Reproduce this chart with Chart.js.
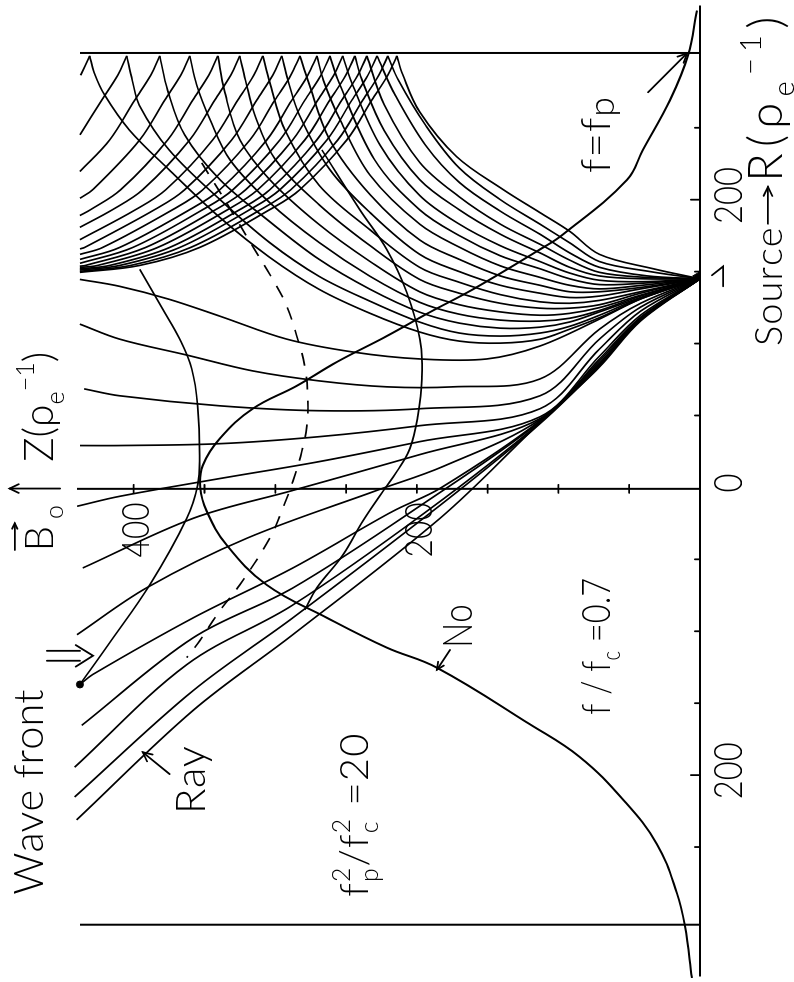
<!DOCTYPE html>
<html>
<head>
<meta charset="utf-8">
<script src="https://cdn.jsdelivr.net/npm/chart.js@4.4.0/dist/chart.umd.min.js"></script>
<style>
html, body { margin: 0; padding: 0; background: #fff; overflow: hidden; width: 794px; height: 982px; }
#wrap { position: absolute; left: 0; top: 0; width: 982px; height: 794px;
        transform-origin: 0 0; transform: translate(0, 982px) rotate(-90deg); }
</style>
</head>
<body>
<div id="wrap"><canvas id="rayChart" width="982" height="794"></canvas></div>
<script>
// R (rho_e^-1) across, Z (rho_e^-1) up; the page shows the figure turned by 90 degrees
const rAxisExtent = [-340, 335];
const zAxisTop = 440;
const wallR = [-304, 302];
const wallTop = 438;
const rTicks = [-250, -200, -150, -100, -50, 50, 100, 150, 200, 250];
const zTicks = [50, 100, 150, 200, 250, 300, 350, 400];
const rLabelValues = [-200, 0, 200];
const rLabelTexts = ['200', '0', '200'];
const zLabelValues = [200, 400];
const zLabelTexts = ['200', '400'];
const sourcePoint = [[147, 2]];
const waveFrontDot = [[-137, 438]];

// density profile No / f = fp
const bellCurve = [[-341,5.7],[-305,10.6],[-282,16.3],[-248,30.4],[-217,54.4],[-187.5,84.8],[-164.7,120.1],
  [-125.3,185.9],[-111.4,221.2],[-90.6,263.6],[-67.8,306],[-40.1,334.3],[-16.6,348.4],[0,353],[15.2,351.2],
  [33.9,339.2],[54.7,315.9],[70.6,284.8],[87.2,256.5],[105.2,221.2],[121.8,190.8],[137.7,160.4],[165.4,113.1],
  [175.8,96.8],[213.8,51.6],[234.6,40.3],[269.2,21.2],[300.3,8.5],[331.5,2.1]];

// rays from the source up to the wall at R = 300
const raysToWall = [
  [[145,0],[152,33],[162,71],[178,92],[191,113],[207,139],[230,172],[261,198],[287,210],[300,214.1]],
  [[145,0],[150,35],[157,71],[170,92],[183,113],[200,141],[222,170],[252,194],[283,213],[300,220.5]],
  [[145,0],[147,37],[153,71],[163,92],[176,113],[192,141],[212,170],[238,194],[273,215.5],[300,228.2]],
  [[145,0],[146,38],[149.5,71],[158,92],[169,113],[183,141],[202,170],[226,198],[266,223],[300,235.3]],
  [[145,0],[145,39],[147,71],[153,92],[163,113],[176,141],[193,170],[214,198],[248,223],[284,239],[300,243.8]],
  [[145,0],[143,40],[144,71],[149,92],[157,113],[168,141],[183,170],[203,198],[238,226],[284,247],[300,252.3]],
  [[145,0],[142,40],[141,71],[145,92],[152,113],[161,141],[175,170],[193,198],[228,230],[284,256],[300,261.4]],
  [[145,0],[140.5,41],[138,71],[140.5,92],[146,113],[154,141],[167,170],[183,198],[217,233],[255,254],[283,266],[300,270.6]],
  [[145,0],[139,42],[136,71],[136,92],[140.5,113],[147,141],[158.5,170],[172,198],[203.5,233],[241.5,261.5],[283,277],[300,282.6]],
  [[145,0],[138,42],[133,71],[132,92],[135,113],[140.5,141],[150,170],[162,198],[191,233],[221,261.5],[259,283],[283,291],[300,295.4]],
  [[145,0],[136,42],[130,71],[128,92],[129,113],[134,141],[142.6,170],[153,198],[179,233],[210,269],[248,293],[282,304],[300,308.8]],
  [[145,0],[135,42],[127,71],[124.6,92],[124.6,113],[128,141],[135,170],[144.6,198],[168,233],[196.5,269],[228,300],[259,314.5],[283,321],[300,325.1]],
  [[145,0],[133.6,42],[125,71],[121,92],[119.7,113],[122,141],[127,170],[136,198],[157,233],[182.7,269],[214,304],[241.5,325],[276,336],[300,340.6]],
  [[145,0],[133,42],[123,71],[117.6,92],[115.6,113],[116.3,141],[120.4,170],[128.7,198],[146.7,233],[170.2,269],[198,304],[227.7,332],[255.4,346],[279.6,355.5],[300,360.4]],
  [[145,0],[132,42],[122,71],[115,92],[111.4,113],[110.7,141],[114.2,170],[121.8,198],[137.7,233],[158.5,269],[184.8,304],[213.8,339],[245,364],[276,376],[300,381.6]],
  [[145,0],[131.5,42],[119.7,71],[112,92],[107.3,113],[105.2,141],[107.3,170],[114.9,198],[129.4,233],[146.7,269],[170.2,304],[200,339],[234.6,375],[265.7,396],[283,401],[300,404.9]],
  [[145,0],[131,42],[118,71],[110,92],[103,113],[100.3,141],[101.7,170],[108,198],[121,233],[137.7,269],[160,304],[187.5,339],[220.8,375],[248.4,403],[272.7,420.5],[288.6,428],[300,431.1]]
];

// the same rays after the reflection at the wall
const raysFromWall = [
  [[300,214.1],[286.5,220.5],[269.2,231.8],[241.5,249.5],[206.9,282.7],[193.1,303.9],[166.8,353.4],[154.3,395.8],[149.5,438]],
  [[300,220.5],[286.5,226.9],[269.2,238.2],[241.5,255.9],[206.9,289.1],[193.1,310.3],[166.8,359.8],[154.3,402.2],[150.2,438]],
  [[300,228.2],[286.5,234.6],[269.2,245.9],[241.5,263.6],[206.9,296.8],[193.1,318],[166.8,367.5],[154.3,409.9],[151.1,438]],
  [[300,235.3],[286.5,241.7],[269.2,253],[241.5,270.7],[206.9,303.9],[193.1,325.1],[166.8,374.6],[154.3,417],[151.9,438]],
  [[300,243.8],[286.5,250.2],[269.2,261.5],[241.5,279.2],[206.9,312.4],[193.1,333.6],[166.8,383.1],[154.3,425.5],[152.9,438]],
  [[300,252.3],[286.5,258.7],[269.2,270],[241.5,287.7],[206.9,320.9],[193.1,342.1],[166.8,391.6],[154.3,434],[153.8,438]],
  [[300,261.4],[286.5,267.8],[269.2,279.1],[241.5,296.8],[206.9,330],[193.1,351.2],[166.8,400.7],[155.8,438]],
  [[300,270.6],[286.5,277],[269.2,288.3],[241.5,306],[206.9,339.2],[193.1,360.4],[166.8,409.9],[158.5,438]],
  [[300,282.6],[286.5,289],[269.2,300.3],[241.5,318],[206.9,351.2],[193.1,372.4],[166.8,421.9],[162,438]],
  [[300,295.4],[286.5,301.8],[269.2,313.1],[241.5,330.8],[206.9,364],[193.1,385.2],[166.8,434.7],[165.8,438]],
  [[300,308.8],[286.5,315.2],[269.2,326.5],[241.5,344.2],[206.9,377.4],[193.1,398.6],[172.2,438]],
  [[300,325.1],[286.5,331.5],[269.2,342.8],[241.5,360.5],[206.9,393.7],[193.1,414.9],[180.8,438]],
  [[300,340.6],[286.5,347],[269.2,358.3],[241.5,376],[206.9,409.2],[193.1,430.4],[189,438]],
  [[300,360.4],[286.5,366.8],[269.2,378.1],[241.5,395.8],[206.9,429],[201,438]],
  [[300,381.6],[286.5,388],[269.2,399.3],[241.5,417],[219.6,438]],
  [[300,404.9],[286.5,411.3],[269.2,422.6],[245.1,438]],
  [[300,431.1],[286.5,437.5]]
];

// rays that cross the duct towards R < 0
const raysAcross = [
  [[145,0],[131,42],[117,71],[98.3,113],[89.3,150.5],[89.3,198],[94.1,245],[103.1,292],[119,339],[130.8,375],[139.8,410],[144.6,438]],
  [[145,0],[128,42],[110,71],[75.4,113],[69.9,174.6],[69.9,221],[74,268.6],[81,316],[92,362.5],[103.1,410],[113.5,438]],
  [[145,0],[125.3,42],[103.1,71],[63.7,113],[54.7,198],[53.3,268.6],[56.7,339],[63.7,410],[68.5,435]],
  [[145,0],[122.5,42],[96.2,71],[54.7,113],[42.9,198],[35.3,268.6],[30.4,339],[29.1,410],[29.1,438]],
  [[145,0],[119.7,42],[91.3,71],[49.1,113],[31.8,198],[18,268.6],[6.2,339],[-6.2,410],[-13.1,440]],
  [[145,0],[118.3,42],[89.3,71],[47.8,113],[22.8,198],[-2.1,287.6],[-21.5,358],[-56,436]],
  [[145,0],[117.6,42],[87.9,71],[47.1,113],[14.5,181.6],[-2.1,228.3],[-35.3,320],[-69.9,391],[-102.4,440]],
  [[145,0],[117,42],[86.5,71],[46.4,113],[-0.7,183.7],[-16.6,217],[-56,287.6],[-90.7,358],[-130.1,429],[-137,438]],
  [[145,0],[117,42],[85.8,71],[45.7,113],[-9.7,193],[-69.9,287.6],[-104.5,358],[-165.4,436.7]],
  [[145,0],[116.3,42],[85.1,71],[45,113],[-16.6,193],[-81.7,287.6],[-123.2,362.5],[-194.5,441.7]],
  [[145,0],[116.3,42],[84.4,71],[44.3,113],[-12.5,183.7],[-90.7,287.6],[-141.2,358],[-215.2,441.7]],
  [[145,0],[115.6,42],[83.7,71],[42.9,115.2],[-21.5,183.7],[-102.4,287.6],[-155,358],[-231.1,440.3]]
];

// wave fronts
const waveFrontA = [[-137,438],[-108,417],[-67.8,388.7],[-21.5,362.5],[1.4,354.8],[22.1,353.4],[56.7,354.8],
  [82.4,359],[103.1,367.5],[123.9,379.5],[151.6,395.8]];
const waveFrontB = [[234.6,267.1],[193.1,240.3],[165.4,221.2],[135.6,207.1],[103.1,197.9],[75.4,196.5],[49.8,199.3],
  [27,204.9],[11.1,214.1],[-2.8,224],[-23.5,238.2],[-47.1,252.3],[-69.9,270.7],[-85.1,279.2]];
const waveFrontDashed = [[225.6,352],[196.5,333.6],[167.5,315.9],[144.6,301.8],[126,291.9],[105.2,284.8],[84.4,279.2],
  [61.6,277],[42.9,277.7],[24.9,281.3],[4.2,287.6],[-14.5,294.7],[-35.3,303.9],[-67.8,325.1],[-85.8,339.2],
  [-106.6,353.4],[-118.3,362.5]];

const ink = '#000';
const family = "Lato, Roboto, 'Liberation Sans', sans-serif";

function lineSet(points, extra) {
  return Object.assign({
    data: points.map(p => ({ x: p[0], y: p[1] })),
    showLine: true,
    borderColor: ink,
    borderWidth: 1.7,
    pointRadius: 0,
    tension: 0.35,
    fill: false,
    clip: false
  }, extra || {});
}

const datasets = [];
datasets.push(lineSet([[rAxisExtent[0], 0], [rAxisExtent[1], 0]], { borderWidth: 2.2, tension: 0 }));
datasets.push(lineSet([[-1, 0], [-1, zAxisTop]], { borderWidth: 2, tension: 0 }));
wallR.forEach(r => datasets.push(lineSet([[r, 0], [r, wallTop]], { borderWidth: 2, tension: 0 })));
datasets.push(lineSet(bellCurve, { borderWidth: 2, tension: 0.4 }));
raysToWall.forEach(r => datasets.push(lineSet(r)));
raysFromWall.forEach(r => datasets.push(lineSet(r)));
raysAcross.forEach(r => datasets.push(lineSet(r)));
datasets.push(lineSet(waveFrontA, { tension: 0.4 }));
datasets.push(lineSet(waveFrontB, { tension: 0.4 }));
datasets.push(lineSet(waveFrontDashed, { tension: 0.4, borderDash: [13, 11] }));
datasets.push({ data: waveFrontDot.map(p => ({ x: p[0], y: p[1] })), pointRadius: 3.5,
  backgroundColor: ink, borderColor: ink, clip: false });
datasets.push({ data: sourcePoint.map(p => ({ x: p[0], y: p[1] })), pointStyle: 'triangle', pointRadius: 4.5,
  backgroundColor: ink, borderColor: ink, clip: false });

// text made of pieces: [text], [text,'sub'], [text,'sup'], [sub,'ss',sup], [text,'lo']
function rich(ctx, parts, x, y, size, targetW, align) {
  ctx.save();
  const font = s => '300 ' + s + 'px ' + family;
  let nChars = 0;
  const segs = parts.map(p => {
    const mode = p[1] || 'n';
    const s = mode === 'n' ? size : (mode === 'lo' ? size * 0.85 : size * 0.62);
    ctx.font = font(s);
    let w = ctx.measureText(p[0]).width;
    if (mode === 'ss') { w = Math.max(w, ctx.measureText(p[2]).width); nChars += 1; }
    else nChars += p[0].length;
    return { p, mode, s, w };
  });
  const total = segs.reduce((a, g) => a + g.w, 0);
  let sx = targetW ? targetW / total : 1;
  let gap = 0;
  if (sx > 1) { gap = (targetW - total) / Math.max(1, nChars - 1); sx = 1; }
  const shown = targetW || total;
  let start = x;
  if (align === 'center') start = x - shown / 2;
  if (align === 'right') start = x - shown;
  ctx.translate(start, y);
  ctx.scale(sx, 1);
  ctx.textBaseline = 'alphabetic';
  ctx.textAlign = 'left';
  let cx = 0;
  segs.forEach(g => {
    ctx.font = font(g.s);
    const dy = g.mode === 'lo' ? size * 0.1 : g.mode === 'sub' ? size * 0.25 : g.mode === 'sup' ? -size * 0.45 : 0;
    if (g.mode === 'ss') {
      ctx.fillText(g.p[0], cx, size * 0.25);
      ctx.fillText(g.p[2], cx, -size * 0.45);
      cx += g.w + gap;
      return;
    }
    for (const ch of g.p[0]) {
      ctx.fillText(ch, cx, dy);
      cx += ctx.measureText(ch).width + gap;
    }
  });
  ctx.restore();
}

function arrow(ctx, a, b, head) {
  ctx.beginPath(); ctx.moveTo(a[0], a[1]); ctx.lineTo(b[0], b[1]); ctx.stroke();
  const t = Math.atan2(b[1] - a[1], b[0] - a[0]);
  ctx.beginPath();
  ctx.moveTo(b[0] - head * Math.cos(t - 0.45), b[1] - head * Math.sin(t - 0.45));
  ctx.lineTo(b[0], b[1]);
  ctx.lineTo(b[0] - head * Math.cos(t + 0.45), b[1] - head * Math.sin(t + 0.45));
  ctx.stroke();
}

const annotate = {
  id: 'annotate',
  afterDatasetsDraw(chart) {
    const { ctx } = chart;
    const xs = chart.scales.x, ys = chart.scales.y;
    const P = (r, z) => [xs.getPixelForValue(r), ys.getPixelForValue(z)];
    ctx.save();
    ctx.strokeStyle = ink;
    ctx.fillStyle = ink;
    ctx.lineWidth = 1.8;
    ctx.lineCap = 'round';

    // ticks
    rTicks.forEach(r => {
      const len = Math.abs(r) === 200 ? 9 : 5;
      const p = P(r, 0);
      ctx.beginPath(); ctx.moveTo(p[0], p[1]); ctx.lineTo(p[0], p[1] - len); ctx.stroke();
    });
    zTicks.forEach(z => {
      const p = P(-1, z);
      ctx.beginPath(); ctx.moveTo(p[0] - 4, p[1]); ctx.lineTo(p[0] + 4, p[1]); ctx.stroke();
    });

    // tick labels
    rLabelValues.forEach((v, i) => {
      const p = P(v + 3, -30);
      rich(ctx, [[rLabelTexts[i]]], p[0], p[1], 40, rLabelTexts[i].length * 19, 'center');
    });
    zLabelValues.forEach((v, i) => {
      const p = P(0, v - 11);
      rich(ctx, [[zLabelTexts[i]]], p[0] - 15, p[1], 38, 55, 'right');
    });

    // axis titles
    let p = P(98.3, -58);
    rich(ctx, [['Source']], p[0], p[1], 38, 117);
    arrow(ctx, P(183.3, -48), P(208.9, -48), 10);
    p = P(212.5, -58);
    rich(ctx, [['R(\u03c1'], ['e', 'sub'], ['\u22121', 'sup'], [')']], p[0], p[1], 47, 165);

    p = P(-44.4, 457);
    rich(ctx, [['B'], ['o', 'sub']], p[0], p[1], 40, 46);
    arrow(ctx, P(-43.5, 484), P(-25, 484), 6);
    arrow(ctx, P(-0.8, 452), P(-0.8, 487.6), 10);
    p = P(17.9, 457);
    rich(ctx, [['Z(\u03c1'], ['e', 'sub'], ['\u22121', 'sup'], [')']], p[0], p[1], 42, 110);

    // wave front label and double arrow
    p = P(-283.2, 464.1);
    rich(ctx, [['Wave front']], p[0], p[1], 42, 201);
    [-120.5, -113.6].forEach(r => {
      const a = P(r, 461.3), b = P(r, 438);
      ctx.beginPath(); ctx.moveTo(a[0], a[1]); ctx.lineTo(b[0], b[1]); ctx.stroke();
    });
    const h1 = P(-124.6, 441), h2 = P(-117, 428.8), h3 = P(-109.6, 441);
    ctx.beginPath(); ctx.moveTo(h1[0], h1[1]); ctx.lineTo(h2[0], h2[1]); ctx.lineTo(h3[0], h3[1]); ctx.stroke();

    // Ray
    p = P(-227, 349.7);
    rich(ctx, [['Ray']], p[0], p[1], 42, 67);
    arrow(ctx, P(-199.3, 374.6), P(-184.1, 393.6), 10);

    // No
    p = P(-111.5, 161);
    rich(ctx, [['No']], p[0], p[1], 42, 43);
    arrow(ctx, P(-113, 176.6), P(-126.7, 185.8), 8);

    // parameters
    p = P(-158, 63.6);
    rich(ctx, [['f / f'], ['c', 'sub'], [' =0.7']], p[0], p[1], 40, 137);
    p = P(-284.6, 234.5);
    rich(ctx, [['f'], ['p', 'ss', '2'], ['/f'], ['c', 'ss', '2'], [' =20']], p[0], p[1], 40, 163);
    p = P(218.6, 63.6);
    rich(ctx, [['f=f'], ['p', 'lo']], p[0], p[1], 42, 76);
    arrow(ctx, P(274.7, 36.7), P(301.7, 9.2), 10);

    // small mark under the source
    const m1 = P(139.8, -16.3), m2 = P(153.6, -16.3), m3 = P(147.5, -8.5);
    ctx.beginPath(); ctx.moveTo(m1[0], m1[1]); ctx.lineTo(m2[0], m2[1]); ctx.lineTo(m3[0], m3[1]); ctx.stroke();

    ctx.restore();
  }
};

new Chart(document.getElementById('rayChart').getContext('2d'), {
  type: 'scatter',
  data: { datasets: datasets },
  options: {
    responsive: false,
    animation: false,
    devicePixelRatio: 1,
    events: [],
    layout: { padding: { left: 2, right: 5, top: 70, bottom: 94 } },
    scales: {
      x: { type: 'linear', min: rAxisExtent[0], max: rAxisExtent[1], display: false },
      y: { type: 'linear', min: 0, max: 445, display: false }
    },
    plugins: { legend: { display: false }, tooltip: { enabled: false } }
  },
  plugins: [annotate]
});
</script>
</body>
</html>
